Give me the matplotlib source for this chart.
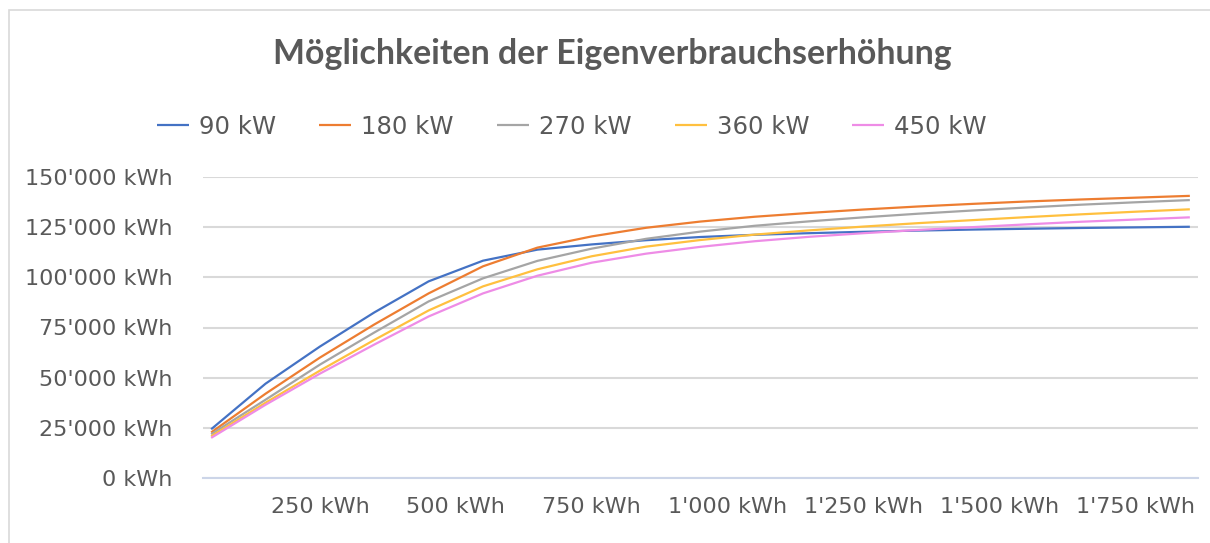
"""Eigenverbrauch vs. Speichergrösse — line chart, Excel look."""
import matplotlib
matplotlib.use("Agg")
import matplotlib.pyplot as plt
from matplotlib.patches import Rectangle
from matplotlib.ticker import FuncFormatter

plt.rcParams["font.family"] = ["DejaVu Sans"]

# ============ Data ============
speicher = [50, 150, 250, 350, 450, 550, 650, 750, 850, 950,
            1050, 1150, 1250, 1350, 1450, 1550, 1650, 1750, 1850]   # kWh
# Eigenverbrauch in 1000 kWh
ev_90  = [24.3, 47.0, 65.5, 82.5, 98.0, 108.3, 113.8, 116.4, 118.5, 120.1,
          121.2, 122.0, 122.7, 123.3, 123.8, 124.2, 124.6, 124.9, 125.2]
ev_180 = [22.7, 42.0, 60.0, 76.5, 92.0, 105.5, 114.8, 120.4, 124.7, 127.8,
          130.2, 132.1, 133.8, 135.3, 136.6, 137.8, 138.8, 139.7, 140.6]
ev_270 = [21.8, 39.0, 56.5, 72.5, 88.0, 99.5, 108.2, 114.3, 119.2, 122.8,
          125.7, 127.9, 129.9, 131.7, 133.3, 134.8, 136.2, 137.4, 138.5]
ev_360 = [20.8, 37.5, 53.5, 68.8, 83.5, 95.5, 104.0, 110.5, 115.3, 118.6,
          121.3, 123.4, 125.3, 127.0, 128.5, 130.0, 131.4, 132.7, 133.9]
ev_450 = [20.0, 36.5, 52.0, 66.5, 80.5, 92.0, 100.8, 107.3, 111.8, 115.2,
          118.0, 120.2, 122.0, 123.6, 125.0, 126.4, 127.7, 128.8, 129.9]
series = [("90 kW", ev_90, "#4472C4"), ("180 kW", ev_180, "#ED7D31"),
          ("270 kW", ev_270, "#A5A5A5"), ("360 kW", ev_360, "#FFC03F"),
          ("450 kW", ev_450, "#EE8CE6")]
x_ticks = [250, 500, 750, 1000, 1250, 1500, 1750]
y_ticks = [0, 25000, 50000, 75000, 100000, 125000, 150000]

TXT = "#595959"

def swiss(v, _=None):
    return f"{int(round(v)):,}".replace(",", "'") + " kWh"

fig = plt.figure(figsize=(12.1, 5.43), dpi=100)
fig.patches.append(Rectangle((9/1210, -0.05), 1.2, 1 - 10/543 + 0.05, transform=fig.transFigure,
                             fill=False, edgecolor="#d9d9d9", linewidth=1.2))
ax = fig.add_axes([203/1210, 1 - 478/543, 995/1210, 301/543])

for name, vals, col in series:
    ax.plot(speicher, [v * 1000 for v in vals], color=col, linewidth=1.6,
            label=name, solid_capstyle="butt", solid_joinstyle="round")

ax.set_xlim(35, 1865); ax.set_ylim(0, 150000)
ax.set_xticks(x_ticks); ax.set_yticks(y_ticks)
ax.xaxis.set_major_formatter(FuncFormatter(swiss))
ax.yaxis.set_major_formatter(FuncFormatter(swiss))
ax.tick_params(length=0, labelsize=16, labelcolor=TXT)
ax.tick_params(axis="x", pad=14); ax.tick_params(axis="y", pad=22)
for s in ["top", "right", "left"]:
    ax.spines[s].set_visible(False)
ax.spines["bottom"].set_color("#ccd5e8"); ax.spines["bottom"].set_linewidth(1.5)
ax.grid(axis="y", color="#d9d9d9", linewidth=1.5)
ax.set_axisbelow(True)

fig.text(612/1210, 1 - 64/543, "Möglichkeiten der Eigenverbrauchserhöhung",
         ha="center", va="baseline", fontsize=24.4, fontweight="bold", color=TXT,
         family=["Lato", "DejaVu Sans"])
fig.legend(loc="center", bbox_to_anchor=(572/1210, 1 - 127/543), ncol=5, frameon=False,
           fontsize=17.6, labelcolor=TXT, handlelength=1.31, handletextpad=0.41,
           columnspacing=1.76)

fig.savefig("out.png", dpi=100)
